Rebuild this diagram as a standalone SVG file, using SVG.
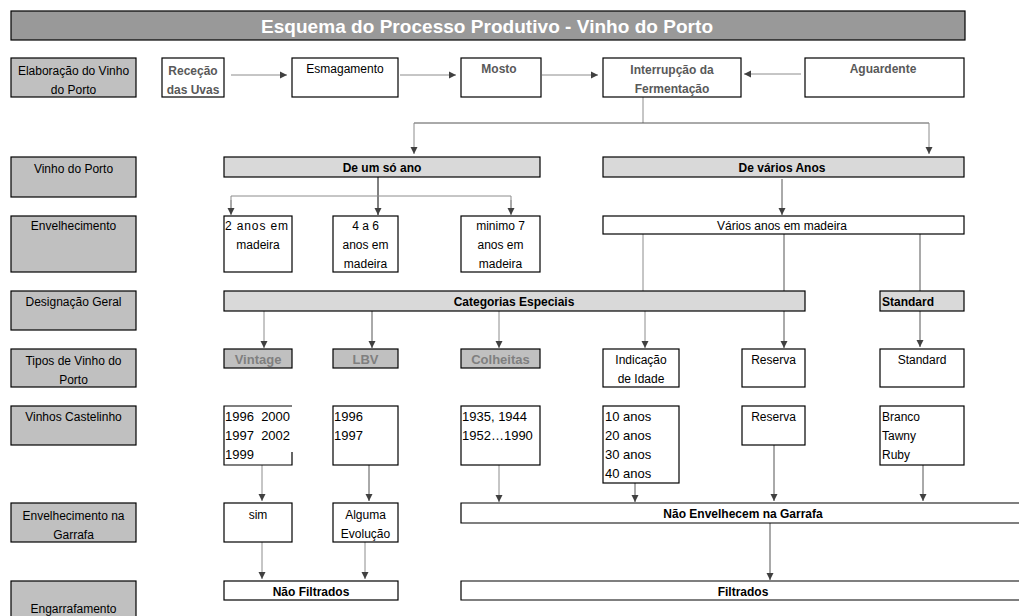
<svg xmlns="http://www.w3.org/2000/svg" width="1019" height="616" viewBox="0 0 1019 616">
<style>
.t{font-family:"Liberation Sans",Arial,sans-serif;font-size:12px;fill:#000}
.c{text-anchor:middle}
.b{font-weight:bold}
.g{fill:#595959;font-weight:bold}
.gg{fill:#7f7f7f;font-weight:bold;font-size:13px}
.y{font-size:13px}
.lbl{fill:#c0c0c0;stroke:#000;stroke-width:1.2}
.box{fill:#fff;stroke:#000;stroke-width:1.2}
.hdr{fill:#d9d9d9;stroke:#000;stroke-width:1.2}
.typ{fill:#c0c0c0;stroke:#000;stroke-width:1.2}
.ln{fill:none;stroke:#8c8c8c;stroke-width:1}
.dk{fill:none;stroke:#555;stroke-width:1}
.ar{marker-end:url(#ah)}
</style>
<defs>
<marker id="ah" markerUnits="userSpaceOnUse" markerWidth="8" markerHeight="8" viewBox="0 0 8 8" refX="7" refY="4" orient="auto">
<path d="M0,0.5 L7,4 L0,7.5 z" fill="#404040"/>
</marker>
</defs>
<rect width="1019" height="616" fill="#fff"/>

<g id="title">
<rect x="11" y="11" width="954" height="29" fill="#999" stroke="#000" stroke-width="1.2"/>
<text class="t b" x="487" y="33" text-anchor="middle" textLength="452" style="font-size:19px;fill:#fff">Esquema do Processo Produtivo - Vinho do Porto</text>
</g>

<g id="labels">
<g id="lbl-elaboracao"><rect class="lbl" x="11" y="58" width="125" height="39"/><text class="t c" x="73.5" y="75">Elaboração do Vinho</text><text class="t c" x="73.5" y="94">do Porto</text></g>
<g id="lbl-vinho"><rect class="lbl" x="11" y="157" width="125" height="40"/><text class="t c" x="73.5" y="173">Vinho do Porto</text></g>
<g id="lbl-envelhecimento"><rect class="lbl" x="11" y="216" width="125" height="56"/><text class="t c" x="73.5" y="230">Envelhecimento</text></g>
<g id="lbl-designacao"><rect class="lbl" x="11" y="291" width="125" height="39"/><text class="t c" x="73.5" y="306">Designação Geral</text></g>
<g id="lbl-tipos"><rect class="lbl" x="11" y="349" width="125" height="38"/><text class="t c" x="73.5" y="365">Tipos de Vinho do</text><text class="t c" x="73.5" y="384">Porto</text></g>
<g id="lbl-castelinho"><rect class="lbl" x="11" y="406" width="125" height="39"/><text class="t c" x="73.5" y="421">Vinhos Castelinho</text></g>
<g id="lbl-garrafa"><rect class="lbl" x="11" y="503" width="125" height="39"/><text class="t c" x="73.5" y="520">Envelhecimento na</text><text class="t c" x="73.5" y="539">Garrafa</text></g>
<g id="lbl-engarrafamento"><rect class="lbl" x="11" y="581" width="125" height="40"/><text class="t c" x="73.5" y="613">Engarrafamento</text></g>
</g>

<g id="connectors">
<line class="ln ar" x1="231" y1="75" x2="287" y2="75"/>
<line class="ln ar" x1="400" y1="75" x2="456" y2="75"/>
<line class="ln ar" x1="542" y1="75" x2="598" y2="75"/>
<line class="ln ar" x1="801" y1="74" x2="744" y2="74"/>
<line class="ln" x1="643" y1="97" x2="643" y2="123"/>
<line class="dk" x1="414" y1="123" x2="929" y2="123"/>
<line class="ln ar" x1="414" y1="123" x2="414" y2="154"/>
<line class="ln ar" x1="929" y1="123" x2="929" y2="154"/>
<line class="ar" x1="378" y1="177" x2="378" y2="215" stroke="#000" stroke-width="1"/>
<polyline class="ln" points="231,214 231,196 511,196 511,214"/>
<line class="ln ar" x1="231" y1="200" x2="231" y2="215"/>
<line class="ln ar" x1="511" y1="200" x2="511" y2="215"/>
<line class="dk ar" x1="782" y1="179" x2="782" y2="215"/>
<line class="ln" x1="643" y1="234" x2="643" y2="291"/>
<line class="dk" x1="784" y1="234" x2="784" y2="291"/>
<line class="dk" x1="920" y1="232" x2="920" y2="291"/>
<line class="ln ar" x1="264" y1="311" x2="264" y2="348"/>
<line class="dk ar" x1="372" y1="311" x2="372" y2="348"/>
<line class="ln ar" x1="499" y1="311" x2="499" y2="348"/>
<line class="ln ar" x1="645" y1="311" x2="645" y2="348"/>
<line class="dk ar" x1="784" y1="311" x2="784" y2="348"/>
<line class="dk ar" x1="920" y1="311" x2="920" y2="347"/>
<line class="ln ar" x1="262" y1="465" x2="262" y2="501"/>
<line class="dk ar" x1="369" y1="465" x2="369" y2="501"/>
<line class="ln ar" x1="499" y1="465" x2="499" y2="502"/>
<line class="dk ar" x1="635" y1="476" x2="635" y2="502"/>
<line class="dk ar" x1="774" y1="445" x2="774" y2="501"/>
<line class="dk ar" x1="923" y1="465" x2="923" y2="501"/>
<line class="ln ar" x1="262" y1="542" x2="262" y2="579"/>
<line class="ln ar" x1="365" y1="542" x2="365" y2="579"/>
<line class="dk ar" x1="770" y1="523" x2="770" y2="580"/>
</g>

<g id="n-rececao"><rect class="box" x="162" y="58" width="62" height="39"/><text class="t g c" x="193" y="75">Receção</text><text class="t g c" x="193" y="94">das Uvas</text></g>
<g id="n-esmagamento"><rect class="box" x="292" y="58" width="106" height="39"/><text class="t c" x="345" y="73">Esmagamento</text></g>
<g id="n-mosto"><rect class="box" x="461" y="58" width="80" height="39"/><text class="t g c" x="499" y="73">Mosto</text></g>
<g id="n-interrupcao"><rect class="box" x="603" y="58" width="138" height="39"/><text class="t g c" x="672" y="74">Interrupção da</text><text class="t g c" x="672" y="93">Fermentação</text></g>
<g id="n-aguardente"><rect class="box" x="805" y="58" width="159" height="39"/><text class="t g c" x="883" y="73">Aguardente</text></g>

<g id="n-um-ano"><rect class="hdr" x="224" y="157" width="316" height="20"/><text class="t b c" x="382" y="172">De um só ano</text></g>
<g id="n-varios-anos"><rect class="hdr" x="603" y="157" width="361" height="20"/><text class="t b c" x="782" y="172">De vários Anos</text></g>

<g id="n-2anos"><rect class="box" x="224" y="216" width="68" height="56"/><text class="t" x="225" y="230" textLength="63">2 anos em</text><text class="t c" x="258" y="249">madeira</text></g>
<g id="n-4a6"><rect class="box" x="333" y="216" width="65" height="56"/><text class="t c" x="365.5" y="230">4 a 6</text><text class="t c" x="365.5" y="249">anos em</text><text class="t c" x="365.5" y="268">madeira</text></g>
<g id="n-minimo7"><rect class="box" x="461" y="216" width="79" height="56"/><text class="t c" x="500.5" y="230">minimo 7</text><text class="t c" x="500.5" y="249">anos em</text><text class="t c" x="500.5" y="268">madeira</text></g>
<g id="n-varios-madeira"><rect class="box" x="603" y="216" width="361" height="18"/><text class="t c" x="782" y="230">Vários anos em madeira</text></g>

<g id="n-categorias"><rect class="hdr" x="224" y="291" width="581" height="20"/><text class="t b c" x="514" y="306">Categorias Especiais</text></g>
<g id="n-standard-hdr"><rect class="hdr" x="880" y="291" width="84" height="20"/><text class="t b" x="882" y="306">Standard</text></g>

<g id="n-vintage"><rect class="typ" x="224" y="349" width="68" height="19"/><text class="t gg c" x="258" y="364">Vintage</text></g>
<g id="n-lbv"><rect class="typ" x="333" y="349" width="65" height="19"/><text class="t gg c" x="365.5" y="364">LBV</text></g>
<g id="n-colheitas"><rect class="typ" x="461" y="349" width="79" height="19"/><text class="t gg c" x="500.5" y="364">Colheitas</text></g>
<g id="n-indicacao"><rect class="box" x="603" y="349" width="76" height="38"/><text class="t c" x="641" y="364">Indicação</text><text class="t c" x="641" y="383">de Idade</text></g>
<g id="n-reserva"><rect class="box" x="742" y="349" width="63" height="38"/><text class="t c" x="773.5" y="364">Reserva</text></g>
<g id="n-standard"><rect class="box" x="880" y="349" width="84" height="38"/><text class="t c" x="922" y="364">Standard</text></g>

<g id="n-anos-vintage"><path class="box" d="M292,452 V465 H224 V406 H292" fill="#fff"/><text class="t y" x="225" y="421" xml:space="preserve">1996  2000</text><text class="t y" x="225" y="440" xml:space="preserve">1997  2002</text><text class="t y" x="225" y="459">1999</text></g>
<g id="n-anos-lbv"><rect class="box" x="333" y="406" width="65" height="59"/><text class="t y" x="334" y="421">1996</text><text class="t y" x="334" y="440">1997</text></g>
<g id="n-anos-colheitas"><rect class="box" x="461" y="406" width="79" height="59"/><text class="t y" x="462" y="421">1935, 1944</text><text class="t y" x="462" y="440">1952…1990</text></g>
<g id="n-anos-idade"><rect class="box" x="603" y="406" width="76" height="77"/><text class="t y" x="605" y="421">10 anos</text><text class="t y" x="605" y="440">20 anos</text><text class="t y" x="605" y="459">30 anos</text><text class="t y" x="605" y="478">40 anos</text></g>
<g id="n-reserva2"><rect class="box" x="742" y="406" width="63" height="39"/><text class="t c" x="773.5" y="421">Reserva</text></g>
<g id="n-tipos-standard"><rect class="box" x="880" y="406" width="84" height="59"/><text class="t" x="882" y="421">Branco</text><text class="t" x="882" y="440">Tawny</text><text class="t" x="882" y="459">Ruby</text></g>

<g id="n-sim"><rect class="box" x="224" y="503" width="68" height="39"/><text class="t c" x="258" y="519">sim</text></g>
<g id="n-alguma"><rect class="box" x="333" y="503" width="65" height="39"/><text class="t c" x="365.5" y="519">Alguma</text><text class="t c" x="365.5" y="538">Evolução</text></g>
<g id="n-nao-envelhecem"><path d="M1019,503 H461 V523 H1019" fill="#fff" stroke="#000" stroke-width="1.2"/><text class="t b c" x="743" y="518">Não Envelhecem na Garrafa</text></g>

<g id="n-nao-filtrados"><rect class="box" x="224" y="581" width="174" height="19"/><text class="t b c" x="311" y="596">Não Filtrados</text></g>
<g id="n-filtrados"><path d="M1019,581 H461 V600 H1019" fill="#fff" stroke="#000" stroke-width="1.2"/><text class="t b c" x="743" y="596">Filtrados</text></g>
</svg>
